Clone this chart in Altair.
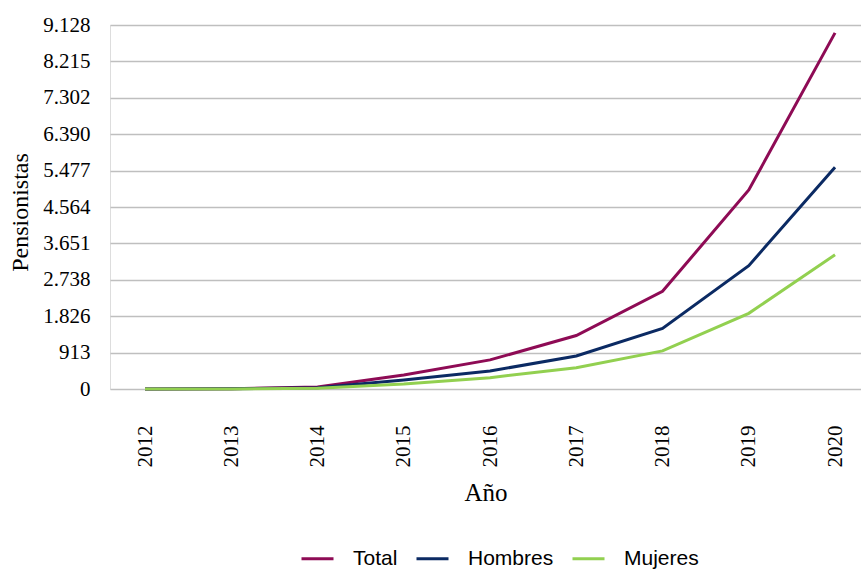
import altair as alt
import pandas as pd

# Pensionistas por año y sexo
years = [2012, 2013, 2014, 2015, 2016, 2017, 2018, 2019, 2020]
total = [3, 6, 50, 350, 730, 1340, 2450, 4990, 8930]
hombres = [2, 4, 30, 225, 451, 828, 1520, 3093, 5560]
mujeres = [1, 2, 20, 125, 284, 535, 955, 1898, 3365]

series = ["Total", "Hombres", "Mujeres"]
colors = ["#8E0B55", "#0B2A63", "#92D050"]

# Y axis ticks: the maximum split into ten equal steps
y_max = 9128
y_ticks = [y_max * i / 10 for i in range(11)]

rows = []
for name, vals in zip(series, [total, hombres, mujeres]):
    for y, v in zip(years, vals):
        rows.append({"Año": y, "Pensionistas": v, "Serie": name})
df = pd.DataFrame(rows)

serif = "Liberation Serif"
sans = "Liberation Sans"

chart = (
    alt.Chart(df)
    .mark_line(strokeWidth=3, strokeCap="butt", strokeJoin="miter")
    .encode(
        x=alt.X(
            "Año:Q",
            scale=alt.Scale(domain=[2011.594, 2020.301], nice=False, zero=False),
            axis=alt.Axis(
                values=years,
                format="d",
                labelAngle=-90,
                labelAlign="right",
                labelBaseline="middle",
                labelPadding=36,
                ticks=False,
                domain=False,
                grid=False,
                labelFont=serif,
                labelFontSize=21,
                labelColor="#000000",
                labelFlush=False,
                labelOverlap=False,
                title="Año",
                titleFont=serif,
                titleFontSize=25,
                titleFontWeight="normal",
                titleColor="#000000",
                titlePadding=13,
            ),
        ),
        y=alt.Y(
            "Pensionistas:Q",
            scale=alt.Scale(domain=[0, y_max], nice=False),
            axis=alt.Axis(
                values=y_ticks,
                labelExpr="replace(format(datum.value, ',.0f'), ',', '.')",
                ticks=False,
                domain=False,
                grid=True,
                gridColor="#BFBFBF",
                gridWidth=1.5,
                labelFont=serif,
                labelFontSize=21,
                labelColor="#000000",
                labelPadding=20,
                labelFlush=False,
                labelOverlap=False,
                title="Pensionistas",
                titleFont=serif,
                titleFontSize=24,
                titleFontWeight="normal",
                titleColor="#000000",
                titleAngle=-90,
                titleX=-90,
                titleY=187,
                titleAlign="center",
                titleBaseline="middle",
            ),
        ),
        color=alt.Color(
            "Serie:N",
            scale=alt.Scale(domain=series, range=colors),
            legend=alt.Legend(
                title=None,
                orient="none",
                legendX=190,
                legendY=516,
                direction="horizontal",
                columns=3,
                symbolType="stroke",
                symbolSize=1024,
                symbolStrokeWidth=3,
                labelFont=sans,
                labelFontSize=21,
                labelColor="#000000",
                labelOffset=18,
                columnPadding=12,
            ),
        ),
    )
    .properties(
        width=751,
        height=364,
        autosize=alt.AutoSizeParams(type="none"),
        padding={"left": 110, "top": 25, "right": 0, "bottom": 182},
    )
    .configure_view(stroke=None)
    .configure(background="#FFFFFF")
)

chart.save("out.html", embed_options={"renderer": "svg", "actions": False})
